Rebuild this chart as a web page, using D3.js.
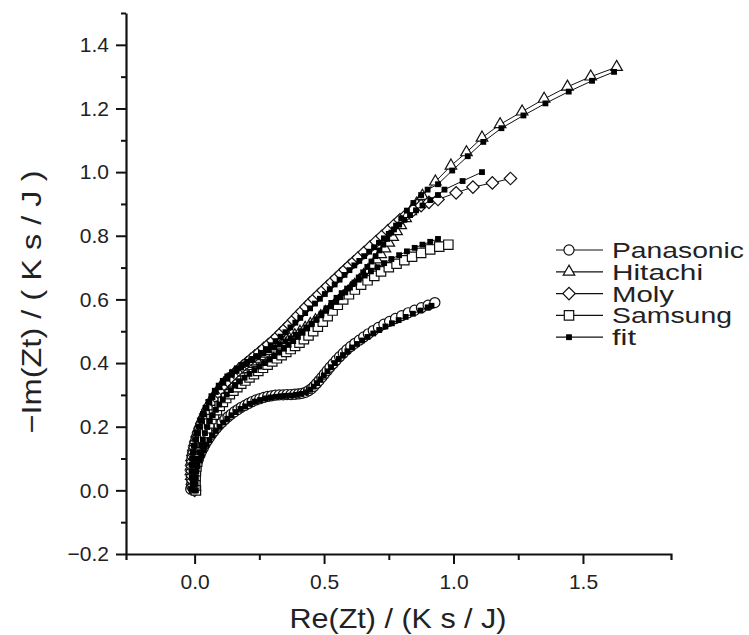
<!DOCTYPE html>
<html>
<head>
<meta charset="utf-8">
<script src="https://cdn.jsdelivr.net/npm/d3@7"></script>
<style>
  body { margin: 0; background: #fff; }
  svg { display: block; }
  text { font-family: "Liberation Sans", Arial, sans-serif; fill: #222; }
</style>
</head>
<body>
<svg id="chart"></svg>
<script>
const width = 749, height = 635;

// measured points, [Re(Zt), -Im(Zt)] in K s / J
const panasonic = [[-0.015,0.004],[-0.012,0.015],[-0.009,0.028],[-0.006,0.04],[-0.003,0.052],[0.001,0.064],[0.005,0.076],[0.01,0.088],[0.015,0.1],[0.021,0.112],[0.027,0.123],[0.034,0.134],[0.041,0.145],[0.049,0.156],[0.057,0.166],[0.066,0.176],[0.075,0.186],[0.085,0.196],[0.095,0.205],[0.106,0.214],[0.117,0.223],[0.129,0.231],[0.141,0.239],[0.154,0.247],[0.167,0.254],[0.18,0.261],[0.194,0.267],[0.208,0.273],[0.222,0.279],[0.237,0.284],[0.252,0.288],[0.267,0.292],[0.282,0.295],[0.297,0.297],[0.312,0.299],[0.327,0.3],[0.342,0.3],[0.357,0.301],[0.372,0.301],[0.387,0.302],[0.401,0.303],[0.415,0.305],[0.428,0.308],[0.44,0.313],[0.451,0.319],[0.461,0.327],[0.471,0.336],[0.481,0.345],[0.491,0.355],[0.501,0.365],[0.512,0.376],[0.523,0.387],[0.535,0.398],[0.547,0.409],[0.56,0.42],[0.574,0.431],[0.588,0.442],[0.603,0.452],[0.619,0.462],[0.636,0.472],[0.653,0.482],[0.671,0.492],[0.69,0.502],[0.71,0.512],[0.731,0.522],[0.753,0.531],[0.776,0.54],[0.8,0.549],[0.825,0.558],[0.85,0.566],[0.876,0.574],[0.902,0.582],[0.928,0.59]];
const hitachi = [[0,0],[-0.006,0.015],[-0.01,0.03],[-0.013,0.045],[-0.014,0.06],[-0.014,0.075],[-0.013,0.09],[-0.011,0.105],[-0.008,0.12],[-0.005,0.135],[-0.001,0.15],[0.004,0.165],[0.009,0.18],[0.015,0.195],[0.022,0.21],[0.029,0.225],[0.037,0.24],[0.046,0.255],[0.055,0.269],[0.065,0.283],[0.076,0.297],[0.087,0.31],[0.099,0.323],[0.112,0.335],[0.126,0.347],[0.14,0.358],[0.155,0.369],[0.17,0.379],[0.186,0.388],[0.202,0.397],[0.219,0.405],[0.236,0.413],[0.253,0.421],[0.27,0.429],[0.287,0.437],[0.304,0.445],[0.325,0.455],[0.346,0.465],[0.366,0.476],[0.387,0.487],[0.407,0.498],[0.427,0.51],[0.447,0.522],[0.467,0.534],[0.487,0.547],[0.506,0.56],[0.525,0.573],[0.544,0.587],[0.563,0.601],[0.582,0.615],[0.6,0.63],[0.618,0.645],[0.636,0.66],[0.653,0.676],[0.67,0.692],[0.687,0.708],[0.703,0.725],[0.719,0.742],[0.735,0.76],[0.75,0.778],[0.765,0.796],[0.78,0.814],[0.796,0.833],[0.815,0.855],[0.835,0.877],[0.857,0.9],[0.88,0.925],[0.93,0.97],[0.99,1.02],[1.05,1.062],[1.11,1.108],[1.18,1.15],[1.265,1.19],[1.35,1.23],[1.44,1.268],[1.53,1.3],[1.63,1.33]];
const moly = [[0,0],[-0.004,0.015],[-0.007,0.03],[-0.009,0.045],[-0.01,0.06],[-0.009,0.075],[-0.008,0.09],[-0.006,0.105],[-0.003,0.12],[0.001,0.135],[0.005,0.15],[0.01,0.165],[0.015,0.18],[0.021,0.195],[0.028,0.21],[0.035,0.225],[0.043,0.24],[0.051,0.254],[0.06,0.268],[0.07,0.282],[0.08,0.295],[0.091,0.308],[0.102,0.32],[0.114,0.333],[0.127,0.345],[0.141,0.357],[0.155,0.368],[0.17,0.379],[0.185,0.39],[0.201,0.401],[0.217,0.412],[0.233,0.423],[0.25,0.434],[0.267,0.446],[0.285,0.458],[0.302,0.47],[0.318,0.482],[0.334,0.495],[0.35,0.508],[0.366,0.521],[0.382,0.535],[0.398,0.549],[0.414,0.562],[0.43,0.576],[0.446,0.589],[0.462,0.601],[0.479,0.615],[0.496,0.628],[0.513,0.641],[0.53,0.654],[0.547,0.667],[0.564,0.68],[0.581,0.693],[0.598,0.706],[0.615,0.718],[0.632,0.731],[0.655,0.748],[0.678,0.765],[0.701,0.782],[0.724,0.799],[0.747,0.816],[0.77,0.833],[0.793,0.85],[0.818,0.866],[0.845,0.881],[0.875,0.895],[0.905,0.905],[0.94,0.914],[1.01,0.935],[1.075,0.953],[1.15,0.966],[1.22,0.98]];
const samsung = [[0.005,0],[0.003,0.015],[0.003,0.03],[0.004,0.045],[0.005,0.06],[0.007,0.075],[0.01,0.09],[0.013,0.105],[0.017,0.12],[0.022,0.135],[0.027,0.15],[0.033,0.165],[0.04,0.18],[0.048,0.195],[0.056,0.21],[0.065,0.224],[0.075,0.238],[0.086,0.252],[0.097,0.265],[0.109,0.278],[0.122,0.29],[0.136,0.302],[0.15,0.313],[0.165,0.324],[0.18,0.335],[0.196,0.345],[0.212,0.355],[0.229,0.365],[0.246,0.375],[0.264,0.385],[0.282,0.395],[0.3,0.405],[0.318,0.415],[0.336,0.425],[0.354,0.435],[0.371,0.444],[0.388,0.454],[0.405,0.464],[0.422,0.475],[0.44,0.487],[0.458,0.5],[0.476,0.514],[0.495,0.53],[0.514,0.547],[0.533,0.565],[0.553,0.583],[0.574,0.6],[0.596,0.616],[0.619,0.631],[0.643,0.646],[0.668,0.66],[0.694,0.674],[0.72,0.688],[0.75,0.701],[0.78,0.712],[0.81,0.723],[0.84,0.734],[0.875,0.746],[0.91,0.757],[0.945,0.766],[0.98,0.772]];

// fitted curves (filled squares)
const fitPanasonic = [[-0.012,0.004],[-0.007,0.022],[-0.002,0.04],[0.004,0.058],[0.011,0.076],[0.019,0.094],[0.027,0.111],[0.036,0.127],[0.046,0.143],[0.057,0.158],[0.069,0.173],[0.082,0.187],[0.096,0.2],[0.111,0.213],[0.126,0.225],[0.142,0.236],[0.159,0.246],[0.177,0.256],[0.195,0.264],[0.214,0.272],[0.233,0.279],[0.253,0.284],[0.273,0.289],[0.293,0.292],[0.313,0.294],[0.333,0.296],[0.353,0.297],[0.373,0.298],[0.393,0.3],[0.412,0.303],[0.43,0.308],[0.446,0.316],[0.46,0.326],[0.473,0.337],[0.486,0.349],[0.499,0.361],[0.513,0.374],[0.527,0.387],[0.542,0.4],[0.557,0.413],[0.573,0.425],[0.59,0.437],[0.608,0.449],[0.627,0.46],[0.647,0.471],[0.668,0.482],[0.69,0.493],[0.713,0.504],[0.737,0.515],[0.762,0.525],[0.788,0.535],[0.815,0.545],[0.843,0.555],[0.872,0.565],[0.9,0.575],[0.915,0.58]];
const fitHitachi = [[0,0],[-0.007,0.02],[-0.011,0.04],[-0.012,0.06],[-0.012,0.08],[-0.01,0.1],[-0.007,0.12],[-0.003,0.14],[0.002,0.16],[0.008,0.18],[0.015,0.2],[0.023,0.22],[0.032,0.24],[0.042,0.259],[0.053,0.278],[0.065,0.296],[0.078,0.313],[0.093,0.329],[0.109,0.344],[0.126,0.358],[0.144,0.371],[0.163,0.383],[0.183,0.394],[0.203,0.404],[0.224,0.413],[0.245,0.422],[0.266,0.431],[0.287,0.44],[0.308,0.449],[0.329,0.458],[0.35,0.468],[0.371,0.478],[0.391,0.489],[0.411,0.5],[0.431,0.512],[0.451,0.524],[0.47,0.537],[0.489,0.55],[0.508,0.564],[0.527,0.578],[0.546,0.592],[0.564,0.607],[0.582,0.622],[0.6,0.637],[0.617,0.653],[0.634,0.669],[0.651,0.685],[0.667,0.702],[0.683,0.719],[0.699,0.736],[0.714,0.754],[0.729,0.772],[0.744,0.79],[0.76,0.81],[0.778,0.832],[0.798,0.855],[0.82,0.879],[0.845,0.903],[0.875,0.928],[0.9,0.945],[0.94,0.962],[0.995,1.005],[1.055,1.05],[1.115,1.095],[1.185,1.138],[1.27,1.178],[1.355,1.216],[1.445,1.253],[1.535,1.287],[1.62,1.315]];
const fitMoly = [[0,0],[-0.005,0.02],[-0.008,0.04],[-0.009,0.06],[-0.008,0.08],[-0.006,0.1],[-0.003,0.12],[0.001,0.14],[0.006,0.16],[0.012,0.18],[0.019,0.2],[0.027,0.22],[0.036,0.239],[0.046,0.258],[0.057,0.276],[0.069,0.293],[0.082,0.309],[0.096,0.324],[0.111,0.338],[0.127,0.351],[0.144,0.363],[0.162,0.375],[0.18,0.386],[0.199,0.397],[0.218,0.409],[0.237,0.42],[0.256,0.432],[0.275,0.444],[0.294,0.456],[0.313,0.469],[0.332,0.483],[0.351,0.497],[0.37,0.512],[0.389,0.527],[0.408,0.542],[0.427,0.557],[0.446,0.572],[0.465,0.587],[0.484,0.602],[0.503,0.617],[0.522,0.632],[0.541,0.647],[0.56,0.662],[0.579,0.677],[0.598,0.692],[0.617,0.707],[0.636,0.721],[0.655,0.736],[0.674,0.75],[0.693,0.764],[0.712,0.778],[0.731,0.792],[0.75,0.806],[0.77,0.82],[0.79,0.835],[0.81,0.85],[0.832,0.865],[0.855,0.88],[0.88,0.895],[0.91,0.912],[0.94,0.928],[0.965,0.945],[1.035,0.972],[1.11,1.0]];
const fitSamsung = [[0.005,0],[0.004,0.02],[0.005,0.04],[0.007,0.06],[0.01,0.08],[0.014,0.1],[0.019,0.12],[0.025,0.14],[0.032,0.16],[0.04,0.18],[0.049,0.199],[0.059,0.218],[0.07,0.236],[0.082,0.253],[0.095,0.27],[0.109,0.286],[0.124,0.301],[0.14,0.315],[0.157,0.329],[0.175,0.342],[0.193,0.354],[0.212,0.366],[0.231,0.378],[0.25,0.389],[0.269,0.4],[0.288,0.411],[0.307,0.422],[0.326,0.433],[0.345,0.445],[0.363,0.457],[0.381,0.469],[0.399,0.482],[0.417,0.495],[0.435,0.509],[0.453,0.523],[0.471,0.537],[0.49,0.555],[0.509,0.572],[0.528,0.589],[0.548,0.605],[0.568,0.62],[0.589,0.634],[0.611,0.648],[0.634,0.662],[0.657,0.675],[0.681,0.688],[0.706,0.701],[0.732,0.714],[0.76,0.727],[0.79,0.739],[0.82,0.751],[0.85,0.762],[0.88,0.772],[0.91,0.781],[0.94,0.79]];

const legendNames = ['Panasonic', 'Hitachi', 'Moly', 'Samsung', 'fit'];
const xMajor = [0, 0.5, 1.0, 1.5];
const xMinor = [0.25, 0.75, 1.25];
const yMajor = [-0.2, 0, 0.2, 0.4, 0.6, 0.8, 1.0, 1.2, 1.4];
const yMinor = [-0.1, 0.1, 0.3, 0.5, 0.7, 0.9, 1.1, 1.3, 1.5];

const marginLeft = 126, marginRight = 78, marginTop = 13, marginBottom = 81;

const x = d3.scaleLinear().domain([-0.265, 1.84]).range([marginLeft, width - marginRight]);
const y = d3.scaleLinear().domain([-0.2, 1.5]).range([height - marginBottom, marginTop]);

const svg = d3.select('#chart')
  .attr('width', width)
  .attr('height', height)
  .attr('viewBox', [0, 0, width, height]);

// symbols
const shapes = {
  circle: d3.symbol().type(d3.symbolCircle).size(80)(),
  triangle: d3.symbol().type(d3.symbolTriangle).size(58)(),
  diamond: d3.symbol().type(d3.symbolSquare).size(78)(),
  square: d3.symbol().type(d3.symbolSquare).size(88)(),
  fit: d3.symbol().type(d3.symbolSquare).size(34)()
};

const series = [
  { name: 'Panasonic', data: panasonic, shape: 'circle', rot: 0 },
  { name: 'Hitachi', data: hitachi, shape: 'triangle', rot: 0 },
  { name: 'Moly', data: moly, shape: 'diamond', rot: 45 },
  { name: 'Samsung', data: samsung, shape: 'square', rot: 0 }
];
const fits = [fitPanasonic, fitHitachi, fitMoly, fitSamsung];

const line = d3.line().x(d => x(d[0])).y(d => y(d[1]));

/** DATA SERIES **/
series.forEach((s) => {
  const g = svg.append('g').attr('class', 'series');
  g.append('path').datum(s.data)
    .attr('d', line)
    .attr('fill', 'none')
    .attr('stroke', '#111')
    .attr('stroke-width', 1);
  g.selectAll('path.pt')
    .data(s.data)
    .join('path')
    .attr('class', 'pt')
    .attr('d', shapes[s.shape])
    .attr('transform', d => `translate(${x(d[0])},${y(d[1])}) rotate(${s.rot})`)
    .attr('fill', '#fff')
    .attr('stroke', '#111')
    .attr('stroke-width', 1.2);
});

/** FITS **/
fits.forEach((f) => {
  const g = svg.append('g').attr('class', 'fit');
  g.append('path').datum(f)
    .attr('d', line)
    .attr('fill', 'none')
    .attr('stroke', '#111')
    .attr('stroke-width', 1);
  g.selectAll('path.pt')
    .data(f)
    .join('path')
    .attr('class', 'pt')
    .attr('d', shapes.fit)
    .attr('transform', d => `translate(${x(d[0])},${y(d[1])})`)
    .attr('fill', '#000');
});

/** AXES **/
const yAxis = svg.append('g')
  .attr('transform', `translate(${marginLeft},0)`)
  .call(d3.axisLeft(y).tickValues(yMajor).tickSize(10).tickSizeOuter(0));
svg.append('g')
  .attr('transform', `translate(${marginLeft},0)`)
  .call(d3.axisLeft(y).tickValues(yMinor).tickSize(5).tickSizeOuter(0).tickFormat(''))
  .select('.domain').remove();

const xAxis = svg.append('g')
  .attr('transform', `translate(0,${height - marginBottom})`)
  .call(d3.axisBottom(x).tickValues(xMajor).tickSize(10).tickSizeOuter(6));
svg.append('g')
  .attr('transform', `translate(0,${height - marginBottom})`)
  .call(d3.axisBottom(x).tickValues(xMinor).tickSize(6).tickSizeOuter(0).tickFormat(''))
  .select('.domain').remove();

svg.selectAll('.domain').attr('stroke', '#111').attr('stroke-width', 2.2);
svg.selectAll('.tick line').attr('stroke', '#111').attr('stroke-width', 2);

const fmt = d => (d < 0 ? '\u2212' : '') + Math.abs(d).toFixed(1);
yAxis.selectAll('.tick text')
  .attr('x', -17)
  .style('font-size', '21px')
  .text(fmt);
xAxis.selectAll('.tick text')
  .attr('y', 20)
  .style('font-size', '21px')
  .text(fmt);
svg.selectAll('.tick text').style('font-family', '"Liberation Sans", Arial, sans-serif').attr('fill', '#333');

// axis titles
svg.append('text')
  .attr('x', 398).attr('y', 628)
  .attr('text-anchor', 'middle')
  .attr('textLength', 217).attr('lengthAdjust', 'spacingAndGlyphs')
  .style('font-size', '28px')
  .text('Re(Zt) / (K s / J)');

svg.append('text')
  .attr('transform', 'translate(41,302) rotate(-90)')
  .attr('text-anchor', 'middle')
  .attr('textLength', 263).attr('lengthAdjust', 'spacingAndGlyphs')
  .style('font-size', '28px')
  .text('\u2212Im(Zt) / ( K s / J )');

/** LEGEND **/
const legendShapes = ['circle', 'triangle', 'diamond', 'square', 'fit'];
const legendRot = [0, 0, 45, 0, 0];
const legend = svg.append('g').attr('class', 'legend');
legendNames.forEach((name, i) => {
  const cy = 250 + i * 21.8;
  legend.append('line')
    .attr('x1', 556).attr('x2', 603)
    .attr('y1', cy).attr('y2', cy)
    .attr('stroke', '#111').attr('stroke-width', 1.2);
  legend.append('path')
    .attr('d', shapes[legendShapes[i]])
    .attr('transform', `translate(569,${cy}) rotate(${legendRot[i]})`)
    .attr('fill', i === 4 ? '#000' : '#fff')
    .attr('stroke', '#111')
    .attr('stroke-width', i === 4 ? 0 : 1.2);
  legend.append('text')
    .attr('x', 612).attr('y', cy + 8)
    .attr('textLength', [132, 91, 62, 120, 24][i]).attr('lengthAdjust', 'spacingAndGlyphs')
    .style('font-size', '22px')
    .text(name);
});
</script>
</body>
</html>
